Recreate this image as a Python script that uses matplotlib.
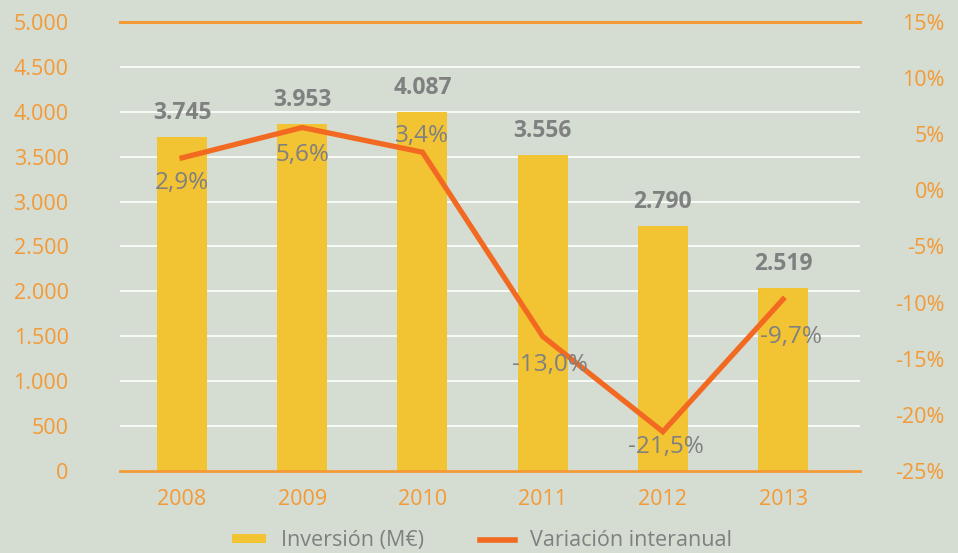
import matplotlib
matplotlib.use("Agg")
import matplotlib.pyplot as plt
from matplotlib.patches import Patch
from matplotlib.lines import Line2D

plt.rcParams['font.family'] = ['Open Sans', 'DejaVu Sans']

# data
anios = ['2008', '2009', '2010', '2011', '2012', '2013']
inversion = [3720, 3866, 4000, 3520, 2730, 2040]          # bar heights as drawn
inversion_txt = ['3.745', '3.953', '4.087', '3.556', '2.790', '2.519']
variacion = [2.9, 5.6, 3.4, -13.0, -21.5, -9.7]
variacion_txt = ['2,9%', '5,6%', '3,4%', '-13,0%', '-21,5%', '-9,7%']
yticks_izq = list(range(0, 5001, 500))
yticks_der = list(range(-25, 16, 5))

# label offsets in points (dx, dy)
off_var = [(0, -18), (0, -20), (0, 12), (5, -21), (2, -11), (6, -27)]

fondo = '#d5dcd2'
amarillo = '#f2c333'
naranja = '#f26a21'
naranja_txt = '#f39a36'
gris = '#7f8080'

fig = plt.figure(figsize=(9.58, 5.53), dpi=100)
fig.patch.set_facecolor(fondo)
ax = fig.add_axes([0.1253, 0.1483, 0.8977 - 0.1253, 0.9602 - 0.1483])
ax.set_facecolor(fondo)

x = list(range(len(anios)))
ax.bar(x, inversion, width=0.416, color=amarillo, zorder=2)
ax.set_ylim(0, 5000)
ax.set_xlim(-0.516, 5.64)
ax.set_yticks(yticks_izq)
ax.set_yticklabels([f'{v:,}'.replace(',', '.') for v in yticks_izq])
ax.set_xticks(x)
ax.set_xticklabels(anios)
ax.grid(axis='y', color='white', lw=1.2, zorder=1)
ax.axhline(5000, color='#f39a36', lw=2.2, zorder=3, clip_on=False)
for s in ['top', 'left', 'right']:
    ax.spines[s].set_visible(False)
ax.spines['bottom'].set_color('#f39a36')
ax.spines['bottom'].set_linewidth(2)
ax.spines['bottom'].set_zorder(4)
ax.tick_params(axis='y', length=0, pad=37, labelsize=15.5, labelcolor=naranja_txt)
ax.tick_params(axis='x', length=0, pad=13, labelsize=15.5, labelcolor=naranja_txt)

for xi, v, t in zip(x, inversion, inversion_txt):
    ax.annotate(t, (xi, v), xytext=(0, 17), textcoords='offset points',
                ha='center', va='center', fontsize=16.5, fontweight='bold', color=gris, zorder=6)

ax2 = ax.twinx()
ax2.set_ylim(-25, 15)
ax2.set_yticks(yticks_der)
ax2.set_yticklabels([f'{v}%' for v in yticks_der])
for s in ax2.spines.values():
    s.set_visible(False)
ax2.tick_params(axis='y', length=0, pad=61, labelsize=15.5, labelcolor=naranja_txt)
for lab in ax2.get_yticklabels():
    lab.set_horizontalalignment('right')
ax2.plot(x, variacion, color=naranja, lw=3.8, solid_joinstyle='miter', zorder=5)
for xi, v, t, o in zip(x, variacion, variacion_txt, off_var):
    ax2.annotate(t, (xi, v), xytext=o, textcoords='offset points',
                 ha='center', va='center', fontsize=17.5, color=gris, zorder=6)

handles = [Patch(facecolor=amarillo, edgecolor='none'),
           Line2D([0], [0], color=naranja, lw=4)]
leg = fig.legend(handles, ['Inversión (M€)', 'Variación interanual'], loc='center',
                 bbox_to_anchor=(0.503, 0.022), ncol=2, frameon=False, fontsize=15.5,
                 handlelength=1.6, handleheight=0.25, columnspacing=2.6, handletextpad=0.7)
for t in leg.get_texts():
    t.set_color(gris)

fig.savefig('out.png', dpi=100, facecolor=fondo)
